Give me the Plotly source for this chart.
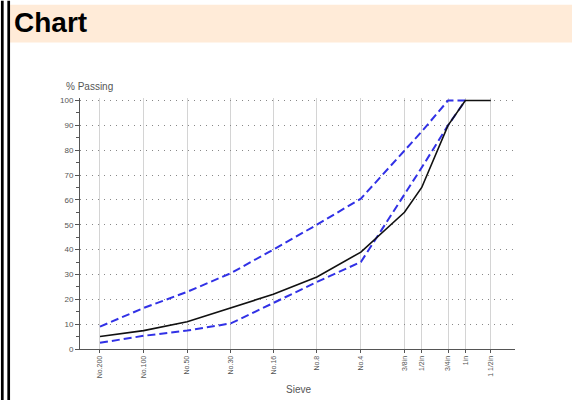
import plotly.graph_objects as go

# sieve sizes in mm and their labels
sieve_mm = [0.075, 0.15, 0.3, 0.6, 1.18, 2.36, 4.75, 9.5, 12.5, 19.0, 25.0, 37.5]
sieve_labels = ["No.200", "No.100", "No.50", "No.30", "No.16", "No.8", "No.4",
                "3/8in", "1/2in", "3/4in", "1in", "1 1/2in"]

# % passing
gradation = [5, 7.4, 11, 16.5, 22, 29, 39, 55, 65, 90, 100, 100]
upper_spec = [9, 16.5, 23, 30.5, 40, 50, 60.5, 80, 87.5, 100, 100]
lower_spec = [2.5, 5.3, 7.4, 10.3, 18.5, 27, 35, 62, 73, 90, 100]

y_ticks = [0, 10, 20, 30, 40, 50, 60, 70, 80, 90, 100]

# plot area in pixels (572x400 page)
L, R, T, B = 80, 515, 97.5, 349
W, H = R - L, B - T


def px(x):
    return (x - L) / W


def py(y):
    return (B - y) / H


blue = "#3131e6"
axis_font = dict(family="Liberation Sans, Arial", size=8, color="#555555")

fig = go.Figure()
fig.add_trace(go.Scatter(x=sieve_mm[:len(upper_spec)], y=upper_spec, mode="lines",
                         line=dict(color=blue, width=2, dash="8px,4px"), name="upper"))
fig.add_trace(go.Scatter(x=sieve_mm[:len(lower_spec)], y=lower_spec, mode="lines",
                         line=dict(color=blue, width=2, dash="8px,4px"), name="lower"))
fig.add_trace(go.Scatter(x=sieve_mm, y=gradation, mode="lines",
                         line=dict(color="#111111", width=1.6), name="gradation"))

fig.update_xaxes(type="log", range=[-1.263, 1.741],
                 tickvals=sieve_mm, ticktext=sieve_labels, tickangle=-90,
                 tickfont=dict(family="Liberation Sans, Arial", size=7, color="#555555"),
                 ticks="outside", ticklen=3, tickcolor="#555555",
                 showline=True, linecolor="#555555", linewidth=1,
                 showgrid=True, gridcolor="#d4d4d4", gridwidth=1, zeroline=False)
fig.update_yaxes(range=[0, 101], tickvals=y_ticks, tickfont=axis_font,
                 ticks="outside", ticklen=4, tickcolor="#555555",
                 minor=dict(dtick=5, ticks="outside", ticklen=3, tickcolor="#555555", showgrid=False),
                 showline=True, linecolor="#555555", linewidth=1,
                 showgrid=True, gridcolor="#888888", griddash="1px,5px", gridwidth=1,
                 zeroline=False)

shapes = [
    dict(type="rect", xref="paper", yref="paper", x0=px(9), x1=px(572), y0=py(42), y1=py(4),
         fillcolor="#ffebd8", line=dict(width=0), layer="below"),
    dict(type="line", xref="paper", yref="paper", x0=px(2.3), x1=px(2.3), y0=py(400), y1=py(0),
         line=dict(color="black", width=2.7)),
    dict(type="line", xref="paper", yref="paper", x0=px(8.7), x1=px(8.7), y0=py(400), y1=py(0),
         line=dict(color="black", width=2.7)),
]

annotations = [
    dict(text="<b>Chart</b>", xref="paper", yref="paper", x=px(12), y=py(22),
         xanchor="left", yanchor="middle", showarrow=False,
         font=dict(family="Liberation Sans, Arial", size=28, color="black")),
    dict(text="% Passing", xref="paper", yref="paper", x=px(64), y=py(86),
         xanchor="left", yanchor="middle", showarrow=False,
         font=dict(family="Liberation Sans, Arial", size=10, color="#555555")),
    dict(text="Sieve", xref="paper", yref="paper", x=px(298), y=py(390),
         xanchor="center", yanchor="middle", showarrow=False,
         font=dict(family="Liberation Sans, Arial", size=10, color="#555555")),
]

fig.update_layout(width=572, height=400, showlegend=False,
                  margin=dict(l=L, r=572 - R, t=T, b=400 - B),
                  paper_bgcolor="white", plot_bgcolor="white",
                  shapes=shapes, annotations=annotations)

fig.write_html("out.html", config={"displayModeBar": False},
               post_script="document.body.style.margin='0';")
